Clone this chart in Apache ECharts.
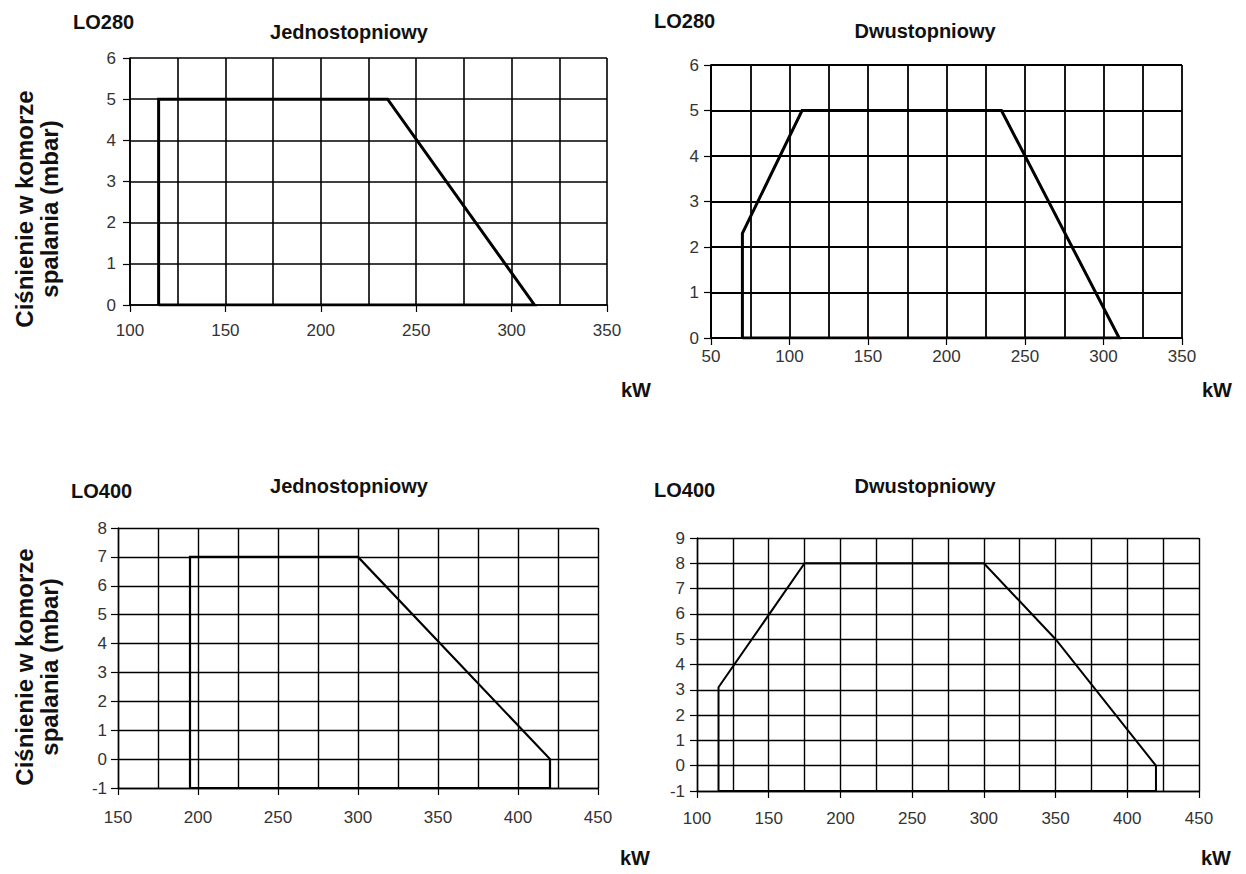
<!DOCTYPE html>
<html>
<head>
<meta charset="utf-8">
<script src="https://cdn.jsdelivr.net/npm/echarts@6/dist/echarts.min.js"></script>
<style>
html,body{margin:0;padding:0;background:#fff;}
#chart{width:1246px;height:874px;}
</style>
</head>
<body>
<div id="chart"></div>
<script>
// ---- Data ----
// LO280 single-stage (Jednostopniowy)
const lo280SingleKw   = [115, 115, 235, 312, 115];
const lo280SingleMbar = [0, 5, 5, 0, 0];
// LO280 two-stage (Dwustopniowy)
const lo280TwoKw   = [70, 70, 108, 235, 310, 70];
const lo280TwoMbar = [0, 2.3, 5, 5, 0, 0];
// LO400 single-stage (Jednostopniowy)
const lo400SingleKw   = [195, 195, 300, 420, 420, 195];
const lo400SingleMbar = [-1, 7, 7, 0, -1, -1];
// LO400 two-stage (Dwustopniowy)
const lo400TwoKw   = [115, 115, 175, 300, 350, 420, 420, 115];
const lo400TwoMbar = [-1, 3.1, 8, 8, 5, 0, -1, -1];

// Axis ranges / tick steps
const xRanges = [[100, 350], [50, 350], [150, 450], [100, 450]];
const yRanges = [[0, 6], [0, 6], [-1, 8], [-1, 9]];
const xStep = 50;
const yStep = 1;

// Texts
const modelNames = ['LO280', 'LO280', 'LO400', 'LO400'];
const chartTitles = ['Jednostopniowy', 'Dwustopniowy', 'Jednostopniowy', 'Dwustopniowy'];
const yAxisTitle = 'Ciśnienie w komorze\nspalania (mbar)';
const xUnit = 'kW';

function zip(a, b) { return a.map((v, i) => [v, b[i]]); }
const seriesData = [
  zip(lo280SingleKw, lo280SingleMbar),
  zip(lo280TwoKw, lo280TwoMbar),
  zip(lo400SingleKw, lo400SingleMbar),
  zip(lo400TwoKw, lo400TwoMbar)
];

// ---- Layout ----
const FONT = "'Liberation Sans', Arial, Helvetica, sans-serif";
const grids = [
  {left: 130, right: 639, top: 58,  bottom: 569},
  {left: 711, right: 64,  top: 65,  bottom: 536},
  {left: 118, right: 648, top: 528, bottom: 86},
  {left: 697, right: 47,  top: 538, bottom: 83}
];
const xLabelMargins = [17, 10, 21, 19];
const yLabelMargins = [14, 12, 11, 12];
const gridWidths = [1.6, 1.8, 1.4, 1.4];
const dataWidths = [3, 3, 2.2, 2];

const xAxes = grids.map((g, i) => ({
  type: 'value', gridIndex: i,
  min: xRanges[i][0], max: xRanges[i][1], interval: xStep,
  axisLine: {show: true, onZero: false, lineStyle: {color: '#000', width: gridWidths[i]}},
  axisTick: {show: true, inside: false, length: 7, lineStyle: {color: '#000', width: 1.2}},
  axisLabel: {color: '#333', fontSize: 17, fontFamily: FONT, margin: xLabelMargins[i]},
  splitLine: {show: true, lineStyle: {color: '#000', width: gridWidths[i]}},
  minorTick: {show: false, splitNumber: 2},
  minorSplitLine: {show: true, lineStyle: {color: '#000', width: gridWidths[i]}}
}));
const yAxes = grids.map((g, i) => ({
  type: 'value', gridIndex: i,
  min: yRanges[i][0], max: yRanges[i][1], interval: yStep,
  axisLine: {show: true, onZero: false, lineStyle: {color: '#000', width: gridWidths[i]}},
  axisTick: {show: true, inside: false, length: 7, lineStyle: {color: '#000', width: 1.2}},
  axisLabel: {color: '#333', fontSize: 17, fontFamily: FONT, margin: yLabelMargins[i]},
  splitLine: {show: true, lineStyle: {color: '#000', width: gridWidths[i]}}
}));

const series = seriesData.map((d, i) => ({
  type: 'line', xAxisIndex: i, yAxisIndex: i,
  data: d, symbol: 'none', z: 5,
  lineStyle: {color: '#000', width: dataWidths[i], join: 'miter'},
  silent: true
}));

function txt(text, x, y, size, align, extra) {
  return Object.assign({
    type: 'text', x: x, y: y,
    style: {
      text: text, font: 'bold ' + size + 'px ' + FONT, fill: '#111',
      align: align, textAlign: align, verticalAlign: 'middle', textVerticalAlign: 'middle'
    }
  }, extra || {});
}

const modelPos = [[73, 22], [654, 21], [71, 491], [654, 490]];
const titlePos = [[349, 32], [925, 31], [349, 486], [925, 486]];
const unitPos = [[636, 390], [1217, 390], [635, 858], [1216, 858]];
const yTitlePos = [[37, 209], [37, 667]];

const graphics = [];
for (let i = 0; i < 4; i++) {
  graphics.push(txt(modelNames[i], modelPos[i][0], modelPos[i][1], 20, 'left'));
  graphics.push(txt(chartTitles[i], titlePos[i][0], titlePos[i][1], 20, 'center'));
  graphics.push(txt(xUnit, unitPos[i][0], unitPos[i][1], 20, 'center'));
}
yTitlePos.forEach(p => {
  const t = txt(yAxisTitle, p[0], p[1], 24, 'center', {rotation: Math.PI / 2});
  t.style.lineHeight = 25;
  graphics.push(t);
});

const chart = echarts.init(document.getElementById('chart'), null, {renderer: 'svg'});
chart.setOption({
  animation: false,
  backgroundColor: '#fff',
  grid: grids,
  xAxis: xAxes,
  yAxis: yAxes,
  series: series,
  graphic: graphics
});
</script>
</body>
</html>
